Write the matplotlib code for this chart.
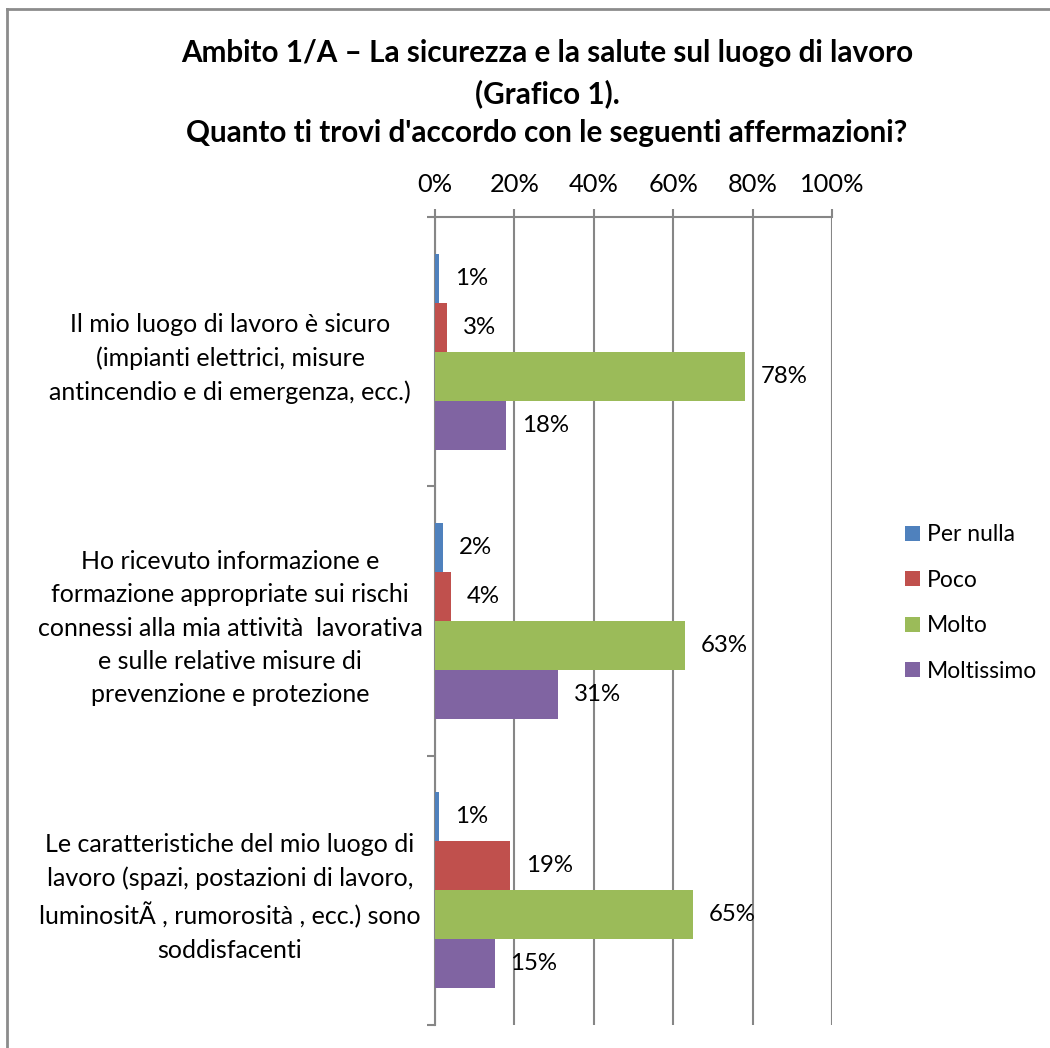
import matplotlib
matplotlib.use("Agg")
import matplotlib.pyplot as plt
from matplotlib.lines import Line2D
import numpy as np

plt.rcParams['font.family'] = ['Lato', 'DejaVu Sans']

title = ("Ambito 1/A \u2013 La sicurezza e la salute sul luogo di lavoro\n"
         "(Grafico 1).\n"
         "Quanto ti trovi d'accordo con le seguenti affermazioni?")
categories = [
    "Il mio luogo di lavoro \u00e8 sicuro\n(impianti elettrici, misure\nantincendio e di emergenza, ecc.)",
    "Ho ricevuto informazione e\nformazione appropriate sui rischi\nconnessi alla mia attivit\u00e0  lavorativa\ne sulle relative misure di\nprevenzione e protezione",
    "Le caratteristiche del mio luogo di\nlavoro (spazi, postazioni di lavoro,\nluminosit\u00c3 , rumorosit\u00e0 , ecc.) sono\nsoddisfacenti",
]
series_names = ["Per nulla", "Poco", "Molto", "Moltissimo"]
per_nulla = [1, 2, 1]
poco = [3, 4, 19]
molto = [78, 63, 65]
moltissimo = [18, 31, 15]
colors = ["#4F81BD", "#C0504D", "#9BBB59", "#8064A2"]
x_ticks = [0, 20, 40, 60, 80, 100]
x_tick_labels = ["0%", "20%", "40%", "60%", "80%", "100%"]

W, H = 1050, 1048
fig = plt.figure(figsize=(W / 100, H / 100), dpi=100)

# outer chart frame
fig.add_artist(Line2D([7 / W, 7 / W], [0, 1 - 9 / H], transform=fig.transFigure, color="#8C8C8C", lw=2))
fig.add_artist(Line2D([7 / W, 1], [1 - 9 / H, 1 - 9 / H], transform=fig.transFigure, color="#8C8C8C", lw=2))

ax_l, ax_r, ax_t, ax_b = 435, 832, 217, 1025
ax = fig.add_axes([ax_l / W, 1 - ax_b / H, (ax_r - ax_l) / W, (ax_b - ax_t) / H])

data = [per_nulla, poco, molto, moltissimo]
n = len(categories)
bar_h = 49 / ((ax_b - ax_t) / n)
centers = np.arange(n) + 0.5
grid_c = "#868686"

for k, (vals, name, col) in enumerate(zip(data, series_names, colors)):
    ys = centers + (k - 1.5) * bar_h
    ax.barh(ys, vals, height=bar_h, color=col, label=name, zorder=3)
    for y, v in zip(ys, vals):
        ax.annotate(f"{v}%", xy=(v, y), xytext=(11.5, 0), textcoords="offset points",
                    va="center", ha="left", fontsize=17.3, zorder=4)

ax.set_xlim(0, 100)
ax.set_ylim(n, 0)
ax.xaxis.tick_top()
ax.set_xticks(x_ticks)
ax.set_xticklabels(x_tick_labels, fontsize=18.3)
ax.tick_params(axis="x", length=6, width=1.5, color=grid_c, pad=9)
ax.grid(axis="x", color=grid_c, lw=1.5, zorder=1)

ax.set_yticks(np.arange(n + 1))
ax.set_yticklabels([])
ax.tick_params(axis="y", which="major", length=6, width=1.5, color=grid_c)
ax.set_yticks(centers, minor=True)
ax.set_yticklabels(categories, minor=True, fontsize=18.0, ha="center", linespacing=1.53)
ax.tick_params(axis="y", which="minor", length=0, pad=147.6)

for s in ["right", "bottom"]:
    ax.spines[s].set_visible(False)
for s in ["left", "top"]:
    ax.spines[s].set_color(grid_c)
    ax.spines[s].set_linewidth(1.5)

fig.text(547 / W, 1 - 93 / H, title, ha="center", va="center", fontsize=21.3,
         fontweight="bold", linespacing=1.5)

fig.legend(loc="center left", bbox_to_anchor=(905 / W, 1 - 603 / H), frameon=False,
           fontsize=16.5, borderaxespad=0, borderpad=0, handlelength=0.65, handleheight=0.65,
           handletextpad=0.3, labelspacing=1.07)

fig.savefig("out.png", dpi=100)
